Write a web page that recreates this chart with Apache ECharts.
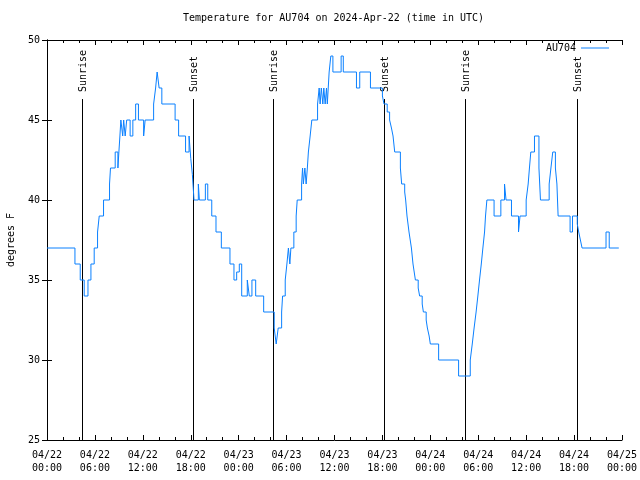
<!DOCTYPE html>
<html>
<head>
<meta charset="utf-8">
<script src="https://cdn.jsdelivr.net/npm/echarts@6/dist/echarts.min.js"></script>
<style>html,body{margin:0;padding:0;background:#fff}#c{width:640px;height:480px}</style>
</head>
<body>
<div id="c"></div>
<script>
// hours since 2024-04-22 00:00 UTC at which the reading changes
var hours = [0, 3.5, 4.16, 4.66, 5.13, 5.5, 5.91, 6.33, 6.54, 7.08, 7.83, 7.95, 8.54, 8.88, 9.0, 9.13, 9.25, 9.48, 9.6, 9.79, 9.98, 10.41, 10.75, 11.1, 11.45, 12.1, 12.29, 13.35, 13.6, 13.79, 14.04, 14.38, 16.04, 16.48, 17.35, 17.79, 18.0, 18.2, 18.41, 18.95, 19.08, 19.83, 20.13, 20.63, 21.16, 21.83, 22.91, 23.41, 23.75, 24.08, 24.38, 25.08, 25.33, 25.66, 26.13, 27.13, 28.45, 28.7, 28.95, 29.38, 29.5, 29.83, 30.04, 30.23, 30.41, 30.54, 30.91, 31.2, 31.33, 31.88, 32.0, 32.1, 32.29, 32.45, 32.6, 32.73, 32.95, 33.16, 33.88, 34.08, 34.2, 34.35, 34.54, 34.66, 34.83, 35.0, 35.1, 35.33, 35.54, 35.8, 36.83, 37.1, 38.75, 39.16, 40.5, 42.0, 42.2, 42.6, 42.9, 43.13, 43.33, 43.54, 44.25, 44.41, 44.79, 44.91, 45.08, 45.33, 45.48, 45.63, 45.83, 45.98, 46.13, 46.48, 46.66, 46.98, 47.13, 47.48, 47.63, 47.85, 48.0, 49.04, 51.54, 53.0, 53.25, 53.48, 53.73, 53.95, 54.16, 54.38, 54.58, 54.79, 54.91, 55.08, 55.98, 56.83, 57.29, 57.48, 58.16, 59.04, 59.23, 60.0, 60.25, 60.41, 60.58, 61.04, 61.6, 61.79, 62.88, 63.1, 63.33, 63.66, 63.85, 64.0, 65.5, 65.8, 66.4, 66.58, 66.79, 67.0, 70.0, 70.4, 71.6];
var tempsF = [37, 36, 35, 34, 35, 36, 37, 38, 39, 40, 41, 42, 43, 42, 43, 44, 45, 44, 45, 44, 45, 44, 45, 46, 45, 44, 45, 46, 47, 48, 47, 46, 45, 44, 43, 44, 42.6, 41.6, 40, 41, 40, 41, 40, 39, 38, 37, 36, 35, 35.5, 36, 34, 35, 34, 35, 34, 33, 32, 31, 32, 33, 34, 35, 36, 37, 36, 37, 38, 39, 40, 41, 42, 41, 42, 41, 42, 43, 44, 45, 46, 47, 46, 47, 46, 47, 46, 47, 46, 48, 49, 48, 49, 48, 47, 48, 47, 46.5, 46, 45.5, 45, 44.5, 44, 43, 42, 41, 40.5, 40, 39, 38, 37.5, 37, 36, 35.5, 35, 34.5, 34, 33.5, 33, 32.5, 32, 31.5, 31, 30, 29, 30, 31, 32, 33, 34, 35, 36, 37, 38, 39, 40, 39, 40, 41, 40, 39, 38, 39, 40, 41, 42, 43, 44, 42, 40, 41, 42, 43, 42, 41, 39, 38, 39, 38.5, 38, 37.5, 37, 38, 37, 37];

var xTickDates = ['04/22','04/22','04/22','04/22','04/23','04/23','04/23','04/23','04/24','04/24','04/24','04/24','04/25'];
var xTickTimes = ['00:00','06:00','12:00','18:00','00:00','06:00','12:00','18:00','00:00','06:00','12:00','18:00','00:00'];
var yTicks = [25, 30, 35, 40, 45, 50];

var sunHours = [4.33, 18.22, 28.24, 42.25, 52.31, 66.33];
var sunLabels = ['Sunrise', 'Sunset', 'Sunrise', 'Sunset', 'Sunrise', 'Sunset'];

var seriesName = 'AU704';
var titleText = 'Temperature for AU704 on 2024-Apr-22 (time in UTC)';

var FONT = '"DejaVu Sans Mono", "Liberation Mono", monospace';
var sunLineTop = 46.31;
var sunLabelBase = 46.75;

var lineData = hours.map(function (h, i) { return [h, tempsF[i]]; });
var sunData = sunHours.map(function (h) { return [h, yTicks[0]]; });

var chart = echarts.init(document.getElementById('c'), null, {renderer: 'canvas'});

var axisCommon = {
  type: 'value', min: 0, max: 72, interval: 6,
  axisLine: {show: true, lineStyle: {color: '#000', width: 1}},
  axisTick: {show: true, inside: true, length: 5, lineStyle: {color: '#000'}},
  minorTick: {show: true, splitNumber: 3, length: 3, lineStyle: {color: '#000'}},
  splitLine: {show: false},
  minorSplitLine: {show: false}
};

chart.setOption({
  animation: false,
  backgroundColor: '#fff',
  title: {
    text: titleText, left: 183, top: 13, padding: 0,
    textStyle: {fontFamily: FONT, fontSize: 10, fontWeight: 'normal', color: '#000'}
  },
  legend: {
    data: [{name: seriesName, icon: 'rect'}], right: 31, top: 43, padding: 0, align: 'right',
    itemWidth: 28, itemHeight: 1,
    textStyle: {fontFamily: FONT, fontSize: 10, color: '#000'}
  },
  grid: {left: 47, right: 18, top: 40, bottom: 40, show: false, containLabel: false, outerBoundsMode: 'none'},
  xAxis: [
    Object.assign({}, axisCommon, {
      position: 'bottom',
      axisLabel: {
        show: true, margin: 9, color: '#000', fontFamily: FONT, fontSize: 10, lineHeight: 13,
        formatter: function (v) { var i = Math.round(v / 6); return xTickDates[i] + '\n' + xTickTimes[i]; }
      }
    }),
    Object.assign({}, axisCommon, {position: 'top', axisLabel: {show: false}})
  ],
  yAxis: [
    {
      type: 'value', min: yTicks[0], max: yTicks[yTicks.length - 1], interval: 5, position: 'left',
      name: 'degrees F', nameLocation: 'middle', nameGap: 31, nameRotate: 90, nameMoveOverlap: false,
      nameTextStyle: {fontFamily: FONT, fontSize: 10, color: '#000'},
      axisLine: {show: true, lineStyle: {color: '#000', width: 1}},
      axisTick: {show: true, inside: true, length: 5, lineStyle: {color: '#000'}},
      axisLabel: {show: true, margin: 7, color: '#000', fontFamily: FONT, fontSize: 10},
      splitLine: {show: false}
    },
    {
      type: 'value', min: yTicks[0], max: yTicks[yTicks.length - 1], interval: 5, position: 'right',
      axisLine: {show: true, lineStyle: {color: '#000', width: 1}},
      axisTick: {show: true, inside: true, length: 5, lineStyle: {color: '#000'}},
      axisLabel: {show: false},
      splitLine: {show: false}
    }
  ],
  series: [
    {
      type: 'custom',
      name: 'sun',
      xAxisIndex: 0, yAxisIndex: 0,
      clip: false,
      z: 1,
      data: sunData,
      renderItem: function (params, api) {
        var t = api.value(0);
        var pBot = api.coord([t, yTicks[0]]);
        var pTop = api.coord([t, sunLineTop]);
        var pLab = api.coord([t, sunLabelBase]);
        var x = Math.round(pBot[0]) + 0.5;
        return {
          type: 'group',
          children: [
            {type: 'line', shape: {x1: x, y1: pBot[1], x2: x, y2: pTop[1]}, style: {stroke: '#000', lineWidth: 1}},
            {type: 'text', x: x + 1, y: pLab[1], rotation: Math.PI / 2,
             style: {text: sunLabels[params.dataIndex], fill: '#000', font: '10px ' + FONT, align: 'left', verticalAlign: 'middle'}}
          ]
        };
      }
    },
    {
      type: 'line',
      name: seriesName,
      xAxisIndex: 0, yAxisIndex: 0,
      data: lineData,
      step: 'end',
      symbol: 'none',
      showSymbol: false,
      z: 2,
      color: '#0a80ff',
      itemStyle: {color: '#0a80ff'},
      lineStyle: {color: '#0a80ff', width: 1}
    }
  ]
});
</script>
</body>
</html>
